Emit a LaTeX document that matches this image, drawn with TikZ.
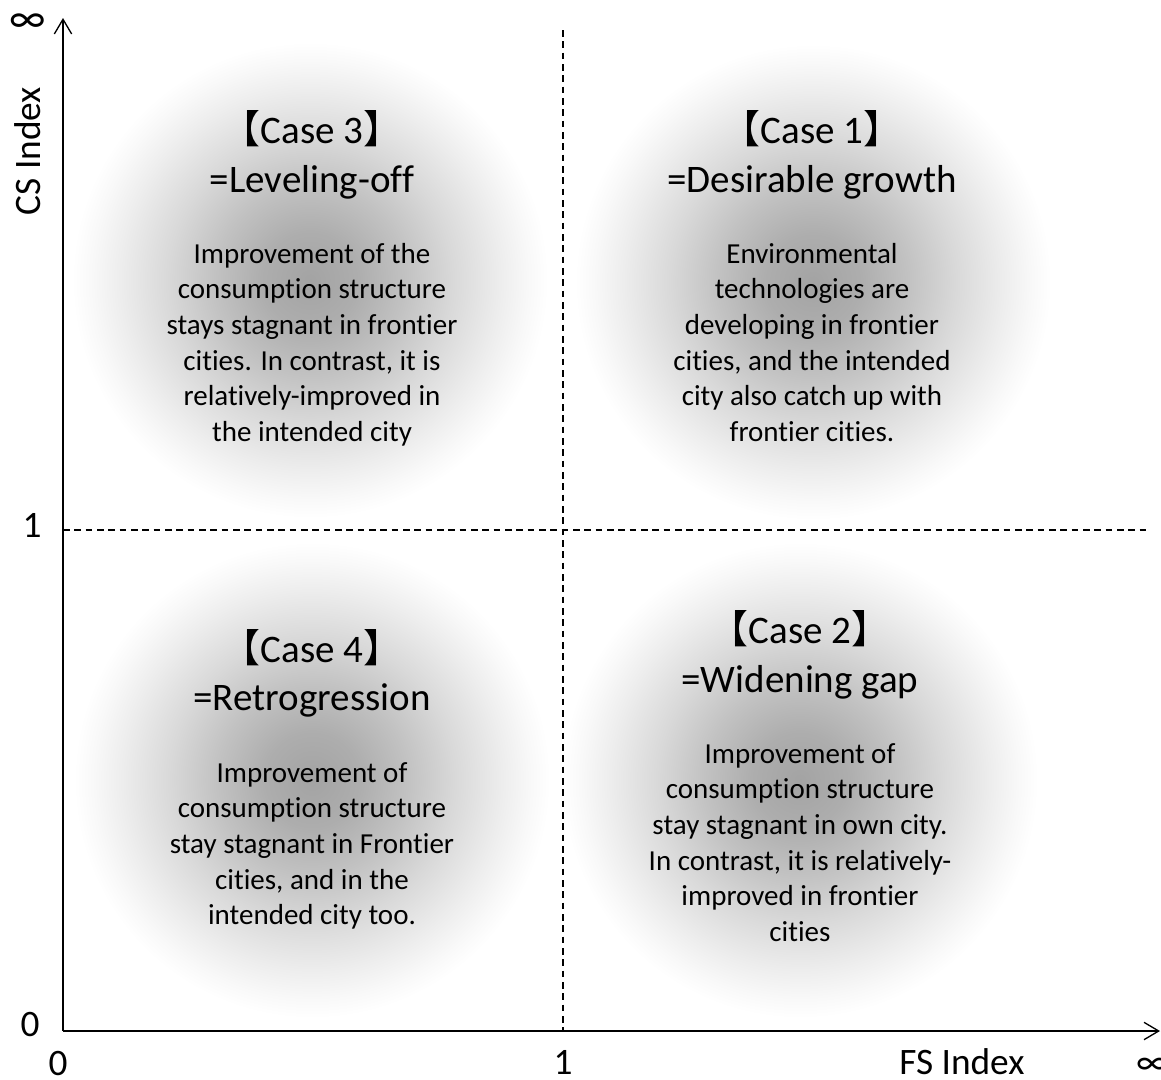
\documentclass[tikz,border=0pt]{standalone}
\usepackage{fontspec}
\setmainfont{Carlito}[Ligatures=NoCommon]
\newfontfamily\cjkfont{Noto Sans CJK JP}
\usetikzlibrary{arrows.meta}
\newcommand{\lbr}{{\cjkfont 【}}
\newcommand{\rbr}{{\cjkfont 】}}
% soft grey disc: dark centre fading to white at the rim
\pgfdeclareradialshading{glow}{\pgfpoint{0bp}{0bp}}{%
  rgb(0bp)=(0.64,0.64,0.64);
  rgb(5bp)=(0.68,0.68,0.68);
  rgb(10bp)=(0.76,0.76,0.76);
  rgb(15bp)=(0.85,0.85,0.85);
  rgb(20bp)=(0.93,0.93,0.93);
  rgb(23bp)=(0.975,0.975,0.975);
  rgb(25bp)=(1,1,1);
  rgb(50bp)=(1,1,1)}

\begin{document}
\begin{tikzpicture}[x=0.75pt,y=-0.75pt,
  axis/.style={line width=1.1pt,-{Straight Barb[length=11pt,width=13pt,line width=1pt]}},
  guide/.style={line width=0.8pt,dash pattern=on 5pt off 3.5pt},
  lbl/.style={inner sep=0pt,font=\fontsize{28}{34}\selectfont},
  title/.style={inner sep=0pt,anchor=base,font=\fontsize{29.25}{36.75}\selectfont},
  body/.style={inner sep=0pt,anchor=base,font=\fontsize{21.75}{26.8}\selectfont},
  disc/.style={shading=glow}
]
\useasboundingbox (0,0) rectangle (1161,1079);

% quadrant discs
\shade[disc] (310,280) circle[radius=238];
\shade[disc] (813,282) circle[radius=238];
\shade[disc] (312,780) circle[radius=238];
\shade[disc] (800,780) circle[radius=238];

% axes
\coordinate (O) at (63,1031);
\coordinate (ytop) at (63,18);
\coordinate (xend) at (1160,1031);
\coordinate (vtop) at (563,30);
\coordinate (vbot) at (563,1031);
\coordinate (hl) at (63,530);
\coordinate (hr) at (1148,530);

\draw[guide] (vtop) -- (vbot);
\draw[guide] (hl) -- (hr);
\draw[axis] (O) -- (ytop);
\draw[axis] (O) -- (xend);

% axis labels
\node[lbl,font=\fontsize{32}{38}\selectfont] (yinf) at (28,23) {∞};
\node[lbl,rotate=90] (ylab) at (28,151) {CS Index};
\node[lbl] (y1) at (32,525) {1};
\node[lbl] (y0) at (30,1025) {0};
\node[lbl] (x0) at (58,1063) {0};
\node[lbl] (x1) at (563,1062) {1};
\node[lbl] (xlab) at (962,1062) {FS Index};
\node[lbl] (xinf) at (1152,1066) {∞};

% Case 3
\node[title] (c3a) at (312,143) {\lbr Case 3\rbr};
\node[title] (c3b) at (312,192) {=Leveling-off};
\node[body] (c3t) at (312,263) {\begin{tabular}[t]{@{}c@{}}
Improvement of the\\
consumption structure\\
stays stagnant in frontier\\
cities. In contrast, it is\\
relatively-improved in\\
the intended city\end{tabular}};

% Case 1
\node[title] (c1a) at (812,143) {\lbr Case 1\rbr};
\node[title] (c1b) at (812,192) {=Desirable growth};
\node[body] (c1t) at (812,263) {\begin{tabular}[t]{@{}c@{}}
Environmental\\
technologies are\\
developing in frontier\\
cities, and the intended\\
city also catch up with\\
frontier cities.\end{tabular}};

% Case 4
\node[title] (c4a) at (312,662) {\lbr Case 4\rbr};
\node[title] (c4b) at (312,710) {=Retrogression};
\node[body] (c4t) at (312,782) {\begin{tabular}[t]{@{}c@{}}
Improvement of\\
consumption structure\\
stay stagnant in Frontier\\
cities, and in the\\
intended city too.\end{tabular}};

% Case 2
\node[title] (c2a) at (800,643) {\lbr Case 2\rbr};
\node[title] (c2b) at (800,692) {=Widening gap};
\node[body] (c2t) at (800,763) {\begin{tabular}[t]{@{}c@{}}
Improvement of\\
consumption structure\\
stay stagnant in own city.\\
In contrast, it is relatively-\\
improved in frontier\\
cities\end{tabular}};
\end{tikzpicture}
\end{document}
